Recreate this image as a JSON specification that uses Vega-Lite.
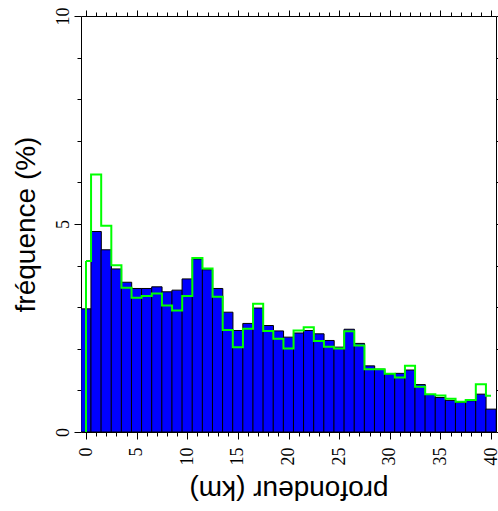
{
  "$schema": "https://vega.github.io/schema/vega-lite/v6.json",
  "width": 415,
  "height": 416,
  "autosize": {"type": "none"},
  "padding": {"left": 81, "top": 16, "right": 2, "bottom": 79},
  "background": "white",
  "config": {
    "view": {"stroke": null},
    "axis": {
      "domainColor": "black",
      "domainWidth": 1,
      "tickColor": "black",
      "tickWidth": 1,
      "grid": false,
      "labelFont": "Liberation Serif",
      "labelFontSize": 18,
      "labelColor": "black",
      "titleFont": "Liberation Sans",
      "titleFontSize": 28,
      "titleFontWeight": "normal",
      "titleColor": "black"
    }
  },
  "data": {
    "values": [
      {"depth": 0, "blue": 2.96, "green": 4.11},
      {"depth": 1, "blue": 4.82, "green": 6.19},
      {"depth": 2, "blue": 4.38, "green": 4.96},
      {"depth": 3, "blue": 3.92, "green": 4.01},
      {"depth": 4, "blue": 3.60, "green": 3.47},
      {"depth": 5, "blue": 3.45, "green": 3.23},
      {"depth": 6, "blue": 3.45, "green": 3.27},
      {"depth": 7, "blue": 3.49, "green": 3.33},
      {"depth": 8, "blue": 3.37, "green": 3.04},
      {"depth": 9, "blue": 3.41, "green": 2.92},
      {"depth": 10, "blue": 3.68, "green": 3.27},
      {"depth": 11, "blue": 4.16, "green": 4.18},
      {"depth": 12, "blue": 3.90, "green": 3.93},
      {"depth": 13, "blue": 3.45, "green": 3.25},
      {"depth": 14, "blue": 2.88, "green": 2.45},
      {"depth": 15, "blue": 2.44, "green": 2.04},
      {"depth": 16, "blue": 2.61, "green": 2.48},
      {"depth": 17, "blue": 2.98, "green": 3.08},
      {"depth": 18, "blue": 2.56, "green": 2.43},
      {"depth": 19, "blue": 2.43, "green": 2.24},
      {"depth": 20, "blue": 2.28, "green": 2.01},
      {"depth": 21, "blue": 2.38, "green": 2.44},
      {"depth": 22, "blue": 2.44, "green": 2.52},
      {"depth": 23, "blue": 2.36, "green": 2.19},
      {"depth": 24, "blue": 2.20, "green": 2.05},
      {"depth": 25, "blue": 2.04, "green": 2.01},
      {"depth": 26, "blue": 2.47, "green": 2.42},
      {"depth": 27, "blue": 2.13, "green": 2.08},
      {"depth": 28, "blue": 1.59, "green": 1.51},
      {"depth": 29, "blue": 1.51, "green": 1.51},
      {"depth": 30, "blue": 1.39, "green": 1.40},
      {"depth": 31, "blue": 1.41, "green": 1.31},
      {"depth": 32, "blue": 1.49, "green": 1.59},
      {"depth": 33, "blue": 1.14, "green": 1.09},
      {"depth": 34, "blue": 0.90, "green": 0.91},
      {"depth": 35, "blue": 0.83, "green": 0.88},
      {"depth": 36, "blue": 0.76, "green": 0.80},
      {"depth": 37, "blue": 0.71, "green": 0.73},
      {"depth": 38, "blue": 0.75, "green": 0.77},
      {"depth": 39, "blue": 0.91, "green": 1.15},
      {"depth": 40, "blue": 0.55, "green": 0.87}
    ]
  },
  "resolve": {"axis": {"x": "independent", "y": "independent"}},
  "layer": [
    {
      "mark": {"type": "bar", "fill": "#0000ff", "stroke": "black", "strokeWidth": 1, "width": 10.375, "clip": true},
      "encoding": {
        "x": {
          "field": "depth", "type": "quantitative",
          "scale": {"domain": [0, 40], "nice": false, "zero": false},
          "axis": {
            "orient": "bottom",
            "title": "profondeur (km)",
            "values": [0,1,2,3,4,5,6,7,8,9,10,11,12,13,14,15,16,17,18,19,20,21,22,23,24,25,26,27,28,29,30,31,32,33,34,35,36,37,38,39,40],
            "tickSize": {"condition": {"test": "datum.value % 5 === 0", "value": 7}, "value": 4},
            "labelExpr": "datum.value % 5 === 0 ? datum.label : ''",
            "labelFont": "Liberation Serif",
            "labelAngle": -90,
            "labelAlign": "right",
            "labelBaseline": "middle",
            "labelPadding": 8,
            "labelOverlap": false,
            "labelFlush": false,
            "titleAngle": 180,
            "titleBaseline": "middle",
            "titleY": 56
          }
        },
        "y": {
          "field": "blue", "type": "quantitative",
          "scale": {"domain": [0, 10], "nice": false},
          "axis": {
            "orient": "left",
            "title": "fréquence (%)",
            "values": [0,1,2,3,4,5,6,7,8,9,10],
            "tickSize": {"condition": {"test": "datum.value % 5 === 0", "value": 7}, "value": 4},
            "labelExpr": "datum.value % 5 === 0 ? datum.label : ''",
            "labelFont": "Liberation Serif",
            "labelAngle": -90,
            "labelAlign": "center",
            "labelBaseline": "alphabetic",
            "labelPadding": 6,
            "labelOverlap": false,
            "labelFlush": false,
            "titleAngle": -90,
            "titleBaseline": "middle",
            "titleX": -55,
            "titleY": 208
          }
        }
      }
    },
    {
      "mark": {"type": "line", "interpolate": "step", "color": "#00ff00", "strokeWidth": 2},
      "encoding": {
        "x": {
          "field": "depth", "type": "quantitative",
          "scale": {"domain": [0, 40], "nice": false, "zero": false},
          "axis": {
            "orient": "top",
            "title": null,
            "labels": false,
            "values": [0,1,2,3,4,5,6,7,8,9,10,11,12,13,14,15,16,17,18,19,20,21,22,23,24,25,26,27,28,29,30,31,32,33,34,35,36,37,38,39,40],
            "tickSize": {"condition": {"test": "datum.value % 5 === 0", "value": 6}, "value": 4}
          }
        },
        "y": {
          "field": "green", "type": "quantitative",
          "scale": {"domain": [0, 10], "nice": false},
          "axis": {
            "orient": "right",
            "title": null,
            "labels": false,
            "values": [0,1,2,3,4,5,6,7,8,9,10],
            "tickSize": 4
          }
        }
      }
    },
    {
      "transform": [{"filter": "datum.depth === 0"}],
      "mark": {"type": "rule", "color": "#00ff00", "strokeWidth": 2},
      "encoding": {
        "x": {"field": "depth", "type": "quantitative", "axis": null},
        "y": {"field": "green", "type": "quantitative", "axis": null},
        "y2": {"datum": 0}
      }
    }
  ]
}
